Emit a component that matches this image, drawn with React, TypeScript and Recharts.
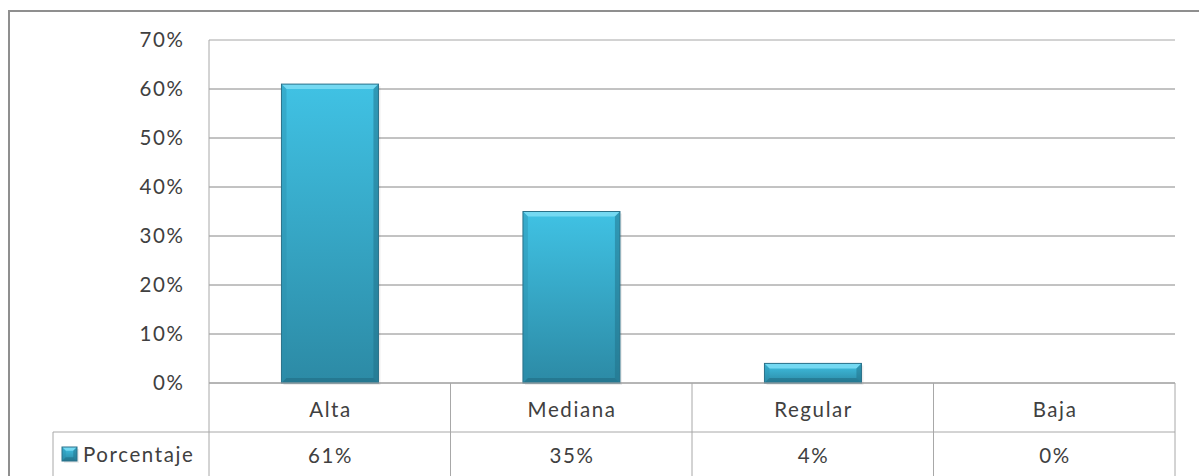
import { Bar, BarChart, CartesianGrid, ReferenceLine, XAxis, YAxis } from 'recharts';

const categories = ['Alta', 'Mediana', 'Regular', 'Baja'];
const porcentaje = [61, 35, 4, 0];
const yTicks = [0, 10, 20, 30, 40, 50, 60, 70];
const seriesName = 'Porcentaje';

const data = categories.map((nivel, i) => ({ nivel, porcentaje: porcentaje[i] }));

const TEXT = '#404040';
const GRID = '#868686';
const TABLE = '#a8a8a8';
const FONT = 'Lato, "Open Sans", sans-serif';
const FONT_SIZE = 20.5;
const SPACING = 1.6;
const ROW = 49;
const LEGEND_W = 156;

const textStyle = { fill: TEXT, fontSize: FONT_SIZE, fontFamily: FONT, letterSpacing: SPACING };

// Bevelled column, light facet on top and darker facets on the sides/bottom.
function BevelBar(props: any) {
  const { x, y, width, height, index } = props;
  if (!(height > 0)) return null;
  const b = Math.min(5, height / 3, width / 4);
  const id = `barFill${index}`;
  const x2 = x + width;
  const y2 = y + height;
  return (
    <g>
      <defs>
        <linearGradient id={id} x1="0" y1="0" x2="0" y2="1">
          <stop offset="0" stopColor="#40c2e4" />
          <stop offset="1" stopColor="#2c8aa5" />
        </linearGradient>
      </defs>
      <rect x={x + 2} y={y + 2} width={width} height={height} fill="#000" opacity={0.07} />
      <rect x={x} y={y} width={width} height={height} fill={`url(#${id})`} />
      <polygon points={`${x},${y} ${x2},${y} ${x2 - b},${y + b} ${x + b},${y + b}`} fill="#74d9f2" />
      <polygon points={`${x},${y} ${x + b},${y + b} ${x + b},${y2 - b} ${x},${y2}`} fill="#2a8fad" opacity={0.4} />
      <polygon points={`${x2},${y} ${x2 - b},${y + b} ${x2 - b},${y2 - b} ${x2},${y2}`} fill="#1f7088" opacity={0.5} />
      <polygon points={`${x},${y2} ${x + b},${y2 - b} ${x2 - b},${y2 - b} ${x2},${y2}`} fill="#1d6177" opacity={0.45} />
      <rect x={x} y={y} width={width} height={height} fill="none" stroke="#2a7189" strokeWidth={1} />
    </g>
  );
}

// Category axis drawn as a data table: label row, then the value row with the legend key.
function TableTick(props: any) {
  const { x, y, payload, index } = props;
  const half = payload?.offset ?? 120.75;
  const left = x - half;
  const right = x + half;
  const isFirst = index === 0;
  const isLast = index === categories.length - 1;
  return (
    <g>
      <line x1={left} y1={y} x2={left} y2={y + 120} stroke={TABLE} />
      {isLast && <line x1={right} y1={y} x2={right} y2={y + 120} stroke={TABLE} />}
      <line x1={isFirst ? left - LEGEND_W : left} y1={y + ROW} x2={right} y2={y + ROW} stroke={TABLE} />
      {isFirst && (
        <g>
          <line x1={left - LEGEND_W} y1={y + ROW} x2={left - LEGEND_W} y2={y + 120} stroke={TABLE} />
          <BevelBar x={left - LEGEND_W + 9} y={y + ROW + 15} width={15} height={14} index="key" />
          <text x={left - LEGEND_W + 30} y={y + ROW + 22} dominantBaseline="central" {...textStyle}>
            {seriesName}
          </text>
        </g>
      )}
      <text x={x + SPACING / 2} y={y + ROW / 2 + 1} textAnchor="middle" dominantBaseline="central" {...textStyle}>
        {payload.value}
      </text>
      <text x={x + SPACING / 2} y={y + ROW + 23} textAnchor="middle" dominantBaseline="central" {...textStyle}>
        {`${porcentaje[index]}%`}
      </text>
    </g>
  );
}

export default function App() {
  return (
    <div
      style={{
        position: 'absolute',
        left: 0,
        top: 0,
        width: 1199,
        height: 476,
        overflow: 'hidden',
        background: '#fff',
      }}
    >
      <div
        style={{
          position: 'absolute',
          left: 8,
          top: 10,
          width: 1300,
          height: 600,
          border: '2px solid #8f8f8f',
        }}
      />
      <div style={{ position: 'absolute', left: 0, top: 0 }}>
        <BarChart
          width={1199}
          height={476}
          data={data}
          margin={{ top: 40, right: 24, bottom: 0, left: 0 }}
          barCategoryGap="30%"
        >
          <CartesianGrid vertical={false} stroke={GRID} />
          <ReferenceLine y={70} stroke="#e2e2e2" />
          <XAxis
            dataKey="nivel"
            height={93}
            interval={0}
            tickLine={false}
            tickSize={0}
            tickMargin={0}
            axisLine={{ stroke: TABLE }}
            tick={<TableTick />}
          />
          <YAxis
            width={209}
            domain={[0, 70]}
            ticks={yTicks}
            tickFormatter={(v: number) => `${v}%`}
            tickLine={false}
            tickSize={0}
            tickMargin={24.5}
            axisLine={{ stroke: TABLE }}
            tick={textStyle}
          />
          <Bar dataKey="porcentaje" name={seriesName} shape={<BevelBar />} isAnimationActive={false} />
        </BarChart>
      </div>
    </div>
  );
}
